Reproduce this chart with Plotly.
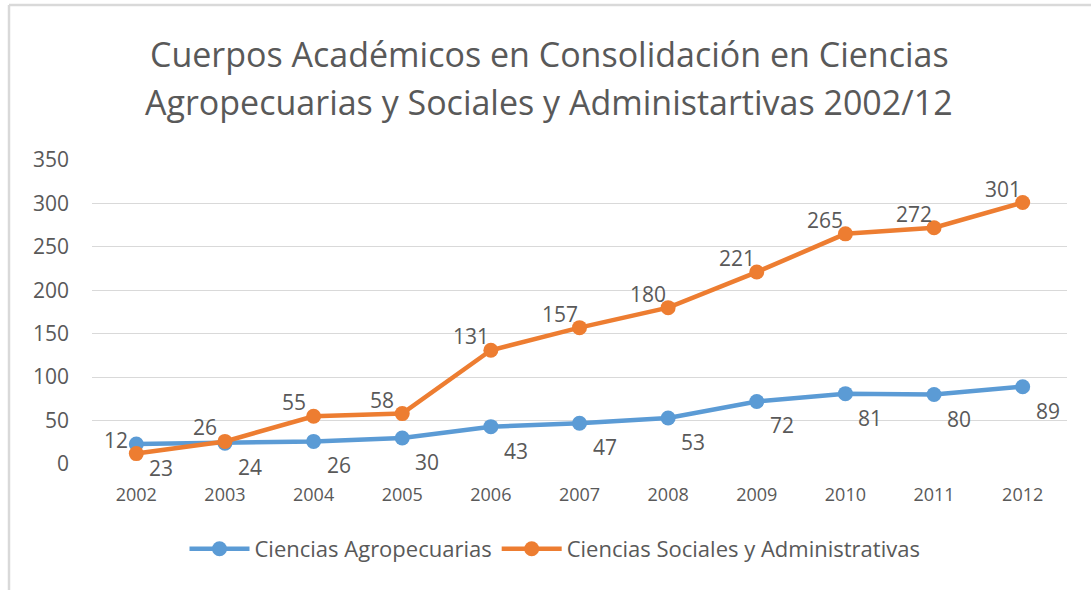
import plotly.graph_objects as go

years = ["2002", "2003", "2004", "2005", "2006", "2007", "2008", "2009", "2010", "2011", "2012"]
agro = [23, 24, 26, 30, 43, 47, 53, 72, 81, 80, 89]
soc = [12, 26, 55, 58, 131, 157, 180, 221, 265, 272, 301]
y_ticks = [0, 50, 100, 150, 200, 250, 300, 350]
title_lines = ["Cuerpos Académicos en Consolidación en Ciencias",
               "Agropecuarias y Sociales y Administartivas 2002/12"]

FONT = "Open Sans"
GRAY = "#595959"
BLUE = "#5B9BD5"
ORANGE = "#ED7D31"

# plot area in pixels
PL, PR, PT, PB = 92, 1067, 160, 464
W, H = 1091, 590


def px_x(x):
    return (x - PL) / (PR - PL)


def px_y(y):
    return (PB - y) / (PB - PT)


fig = go.Figure()
fig.add_trace(go.Scatter(
    x=years, y=agro, name="Ciencias Agropecuarias", mode="lines+markers",
    line=dict(color=BLUE, width=4.5), marker=dict(color=BLUE, size=15),
    cliponaxis=False,
))
fig.add_trace(go.Scatter(
    x=years, y=soc, name="Ciencias Sociales y Administrativas", mode="lines+markers",
    line=dict(color=ORANGE, width=4.5), marker=dict(color=ORANGE, size=15),
    cliponaxis=False,
))

annotations = []
# on a category axis, annotation x is the category index
for i, v in enumerate(agro):
    annotations.append(dict(x=i, y=v, xref="x", yref="y", text=str(v), showarrow=False,
                            xshift=25, yshift=-24,
                            font=dict(family=FONT, size=21, color=GRAY)))
for i, v in enumerate(soc):
    annotations.append(dict(x=i, y=v, xref="x", yref="y", text=str(v), showarrow=False,
                            xshift=-20, yshift=14,
                            font=dict(family=FONT, size=21, color=GRAY)))
for line, cy in zip(title_lines, [54, 102]):
    annotations.append(dict(x=px_x(549), y=px_y(cy), xref="paper", yref="paper",
                            xanchor="center", yanchor="middle", text=line, showarrow=False,
                            font=dict(family=FONT, size=34, color=GRAY)))

# chart border (top and left edges visible in the reference)
fig.add_shape(type="line", xref="paper", yref="paper",
              x0=px_x(9), x1=px_x(1100), y0=px_y(5), y1=px_y(5),
              line=dict(color="#D9D9D9", width=2.5))
fig.add_shape(type="line", xref="paper", yref="paper",
              x0=px_x(9), x1=px_x(9), y0=px_y(5), y1=px_y(600),
              line=dict(color="#D9D9D9", width=2.5))

fig.update_layout(
    width=W, height=H,
    margin=dict(l=PL, r=W - PR, t=PT, b=H - PB),
    paper_bgcolor="white", plot_bgcolor="white",
    font=dict(family=FONT, color=GRAY),
    annotations=annotations,
    xaxis=dict(
        type="category", range=[-0.5, len(years) - 0.5],
        showgrid=False, showline=False, zeroline=False,
        tickfont=dict(family=FONT, size=18, color=GRAY), ticks="",
        ticklabelstandoff=18,
    ),
    yaxis=dict(
        range=[0, 350], tickvals=y_ticks, showgrid=True, gridcolor="#D9D9D9",
        gridwidth=1.3, zeroline=False, showline=False,
        tickfont=dict(family=FONT, size=21, color=GRAY), ticks="",
        ticklabelstandoff=22,
    ),
    legend=dict(
        orientation="h", x=px_x(555), xanchor="center",
        y=px_y(549), yanchor="middle",
        font=dict(family=FONT, size=22, color=GRAY),
        itemwidth=60,
    ),
    showlegend=True,
)

fig.write_html("out.html", config={"displayModeBar": False},
               post_script="document.body.style.margin='0';")
